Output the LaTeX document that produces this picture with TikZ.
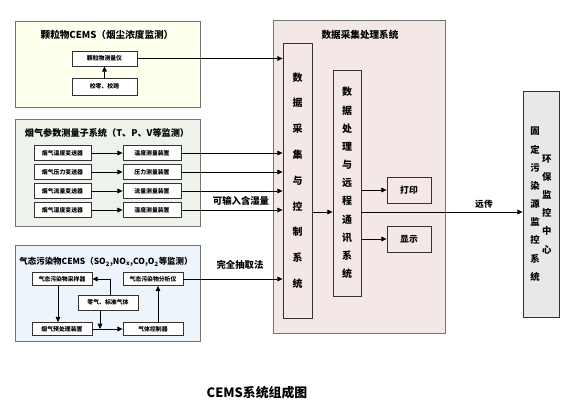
\documentclass[tikz,border=0pt]{standalone}
\usepackage{fontspec}
\setmainfont{Noto Sans CJK SC}
\usetikzlibrary{arrows.meta,positioning}
\definecolor{pmfill}{HTML}{FFFFEE}
\definecolor{fluefill}{HTML}{EDF3EB}
\definecolor{gasfill}{HTML}{EEF4FB}
\definecolor{daqfill}{HTML}{F4E8E7}
\definecolor{epcfill}{HTML}{E8E8E8}

\begin{document}
\begin{tikzpicture}[
        x=0.03cm,
        y=-0.03cm,
        group/.style={draw=black!55, line width=0.6pt, minimum width=5.55cm},
        unit/.style={draw=black!80, line width=0.7pt, fill=white, inner sep=0pt,
            minimum height=0.45cm, font=\fontsize{5}{6}\selectfont\bfseries},
        column/.style={draw=black!80, line width=0.7pt, inner sep=0pt, align=center},
        title/.style={font=\fontsize{8.2}{10}\selectfont\bfseries},
        lbl/.style={font=\fontsize{8}{10}\selectfont\bfseries},
        arr/.style={line width=0.6pt, -{Triangle[length=4.5pt,width=4pt]}}
    ]
        \useasboundingbox (0,0) rectangle (580,414);

        % outer boxes
        \node[group, fill=pmfill, minimum height=2.58cm] (pmgrp) at (107.5,64) {};
        \node[group, fill=fluefill, minimum height=3.21cm] (fluegrp) at (107.5,172.5) {};
        \node[group, fill=gasfill, minimum height=2.88cm] (gasgrp) at (107.5,293) {};
        \node[draw=black!55, line width=0.6pt, fill=daqfill, minimum width=5.16cm, minimum height=9.39cm] (daq) at (359,176.5) {};

        \node[title] (pmtitle) at (107,35) {颗粒物CEMS（烟尘浓度监测）};
        \node[title, font=\fontsize{7.8}{10}\selectfont\bfseries] (fluetitle) at (107,133) {烟气参数测量子系统（T、P、V等监测）};
        \node[title, font=\fontsize{7.2}{10}\selectfont\bfseries] (gastitle) at (106,262) {气态污染物CEMS（SO\textsubscript{2},NO\textsubscript{x},CO,O\textsubscript{2}等监测）};
        \node[title] (daqtitle) at (360,35) {数据采集处理系统};

        % particulate CEMS
        \node[unit, minimum width=1.95cm] (pm) at (104.5,58.5) {颗粒物测量仪};
        \node[unit, minimum width=1.95cm, minimum height=0.51cm] (cal) at (104.5,86.5) {校零、校跨};
        \draw[arr] (cal) -- (pm);

        % flue gas parameters
        \foreach \i/\y/\sens/\meas in {1/153/烟气温度变送器/温度测量装置,
                2/172/烟气压力变送器/压力测量装置,
                3/191/烟气流量变送器/流量测量装置,
                4/210/烟气湿度变送器/湿度测量装置}{
            \node[unit, minimum width=1.71cm] (t\i) at (62.5,\y) {\sens};
            \node[unit, minimum width=1.74cm] (m\i) at (152,\y) {\meas};
            \draw[arr] (t\i) -- (m\i);
        }

        % gaseous pollutant CEMS
        \node[unit, minimum width=1.8cm, minimum height=0.39cm] (samp) at (62,279) {气态污染物采样器};
        \node[unit, minimum width=1.8cm, minimum height=0.39cm] (ana) at (153,279) {气态污染物分析仪};
        \node[unit, minimum width=1.8cm] (zero) at (108,302.5) {零气、标准气体};
        \node[unit, minimum width=1.8cm, minimum height=0.39cm] (pre) at (62,329) {烟气预处理装置};
        \node[unit, minimum width=1.8cm, minimum height=0.39cm] (ctrl) at (153,329) {气体控制器};
        \draw[arr] ([xshift=-0.12cm]samp.south) -- ([xshift=-0.12cm]pre.north);
        \draw[arr] (pre) -- (ctrl);
        \draw[arr] ([xshift=0.15cm]ctrl.north) -- ([xshift=0.15cm]ana.south);
        \draw[arr] ([xshift=0.06cm]zero.north) |- (samp.east);
        \draw[arr] ([xshift=-0.24cm]zero.south) -- ([xshift=-0.24cm]zero.south |- pre.east);

        % data acquisition and processing
        \node[column, minimum width=0.87cm, minimum height=8.25cm,
            font=\fontsize{8.5}{22}\selectfont\bfseries] (acq) at (297.5,180.5)
            {数\\据\\采\\集\\与\\控\\制\\系\\统};
        \node[column, minimum width=0.84cm, minimum height=6.78cm,
            font=\fontsize{8.5}{15.5}\selectfont\bfseries] (proc) at (347,183)
            {数\\据\\处\\理\\与\\远\\程\\通\\讯\\系\\统};
        \node[unit, minimum width=1.32cm, minimum height=0.78cm, fill=none, font=\fontsize{7.5}{9}\selectfont\bfseries] (print) at (409,190) {打印};
        \node[unit, minimum width=1.32cm, minimum height=0.78cm, fill=none, font=\fontsize{7.5}{9}\selectfont\bfseries] (disp) at (409,239) {显示};

        % monitoring centre
        \node[column, fill=epcfill, minimum width=1.08cm, minimum height=6.78cm,
            font=\fontsize{8}{15.5}\selectfont\bfseries] (epc) at (541,204)
            {\begin{tabular}{@{}c@{}}固\\定\\污\\染\\源\\监\\控\\系\\统\end{tabular}\hspace{2pt}%
             \begin{tabular}{@{}c@{}}环\\保\\监\\控\\中\\心\end{tabular}};

        % connectors into acquisition
        \coordinate (mid) at (322,212);
        \draw[arr] (pm.east) -- (pm.east -| acq.west);
        \foreach \i in {1,...,4}{
            \draw[arr] (m\i.east) -- (m\i.east -| acq.west);
        }
        \draw[arr] (ana.east) -- (ana.east -| acq.west);
        \draw[arr] (acq.east |- mid) -- (proc.west |- mid);
        \draw[arr] (proc.east |- print) -- (print.west);
        \draw[arr] (proc.east |- disp) -- (disp.west);
        \draw[arr] (proc.east |- mid) -- (epc.west |- mid);

        \node[lbl] (humid) at (241,201) {可输入含湿量};
        \node[lbl] (extract) at (240,265) {完全抽取法};
        \node[font=\fontsize{7.5}{9}\selectfont\bfseries] (remote) at (484,204) {远传};

        \node[font=\fontsize{11}{13}\selectfont\bfseries] (caption) at (257,393) {CEMS系统组成图};
    \end{tikzpicture}
\end{document}
